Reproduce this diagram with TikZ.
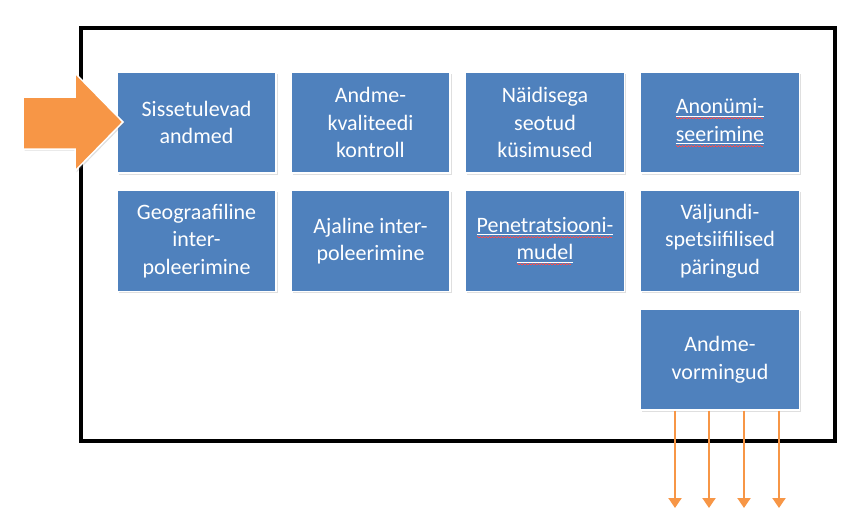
\documentclass[tikz,border=0pt]{standalone}
\usepackage{fontspec}
\setmainfont{Carlito}
\usetikzlibrary{arrows.meta,shadows}

\definecolor{boxblue}{HTML}{4F81BD}
\definecolor{arroworange}{HTML}{F79646}

% spell-checker marks under the text: white underline, red wave below
\newcommand\spellchk[1]{\setbox0\hbox{#1}%
    \rlap{\vrule height -1.7pt depth 2.6pt width \wd0}%
    \rlap{\color{red!70!white}\leaders\hbox to 3pt{\vrule height -3.5pt depth 4.2pt width 1.5pt\vrule height -4.2pt depth 4.9pt width 1.5pt}\hskip\wd0}%
    \box0}

\begin{document}
\begin{tikzpicture}[x=1pt,y=-1pt,
            every node/.style={rectangle,fill=boxblue,draw=white,line width=1.2pt,
                text=white,align=center,inner sep=0pt,
                minimum width=159pt,minimum height=101pt,
                font=\fontsize{22}{27.5}\selectfont,
                drop shadow={shadow xshift=1.5pt,shadow yshift=-1.5pt,opacity=0.25}},
            outarrow/.style={draw=arroworange,line width=2pt,-{Triangle[width=13pt,length=10pt]}}]
                \useasboundingbox (0,0) rectangle (859,528);
                % frame
                \draw[line width=3.5pt] (81,28) rectangle (835,441);
                % row 1
                \node(sisse) at (196.5, 122.5) {Sissetulevad\\andmed};
                \node(kval) at (370.5, 122.5) {Andme-\\kvaliteedi\\kontroll};
                \node(naid) at (545, 122.5) {Näidisega\\seotud\\küsimused};
                \node(anon) at (720, 122.5) {\spellchk{Anonümi-}\\\spellchk{seerimine}};
                % row 2
                \node(geo) at (196.5, 241) {Geograafiline\\inter-\\poleerimine};
                \node(ajal) at (370.5, 241) {Ajaline inter-\\poleerimine};
                \node(pen) at (545, 241) {\spellchk{Penetratsiooni-}\\\spellchk{mudel}};
                \node(valj) at (720, 241) {Väljundi-\\spetsiifilised\\päringud};
                % row 3
                \node(vorm) at (720, 359.5) {Andme-\\vormingud};
                % incoming data
                \filldraw[fill=arroworange,draw=white,line width=1.5pt,
                    drop shadow={shadow xshift=1.5pt,shadow yshift=-1.5pt,opacity=0.25}]
                    (23,97) -- (75,97) -- (75,73) -- (123,122) -- (75,171) -- (75,149) -- (23,149) -- cycle;
                % outgoing data
                \coordinate(out1) at (675, 508);
                \coordinate(out2) at (709, 508);
                \coordinate(out3) at (744, 508);
                \coordinate(out4) at (779, 508);
                \foreach \o in {out1,out2,out3,out4}
                    \draw[outarrow] (vorm.south -| \o) -- (\o);
        \end{tikzpicture}
\end{document}
